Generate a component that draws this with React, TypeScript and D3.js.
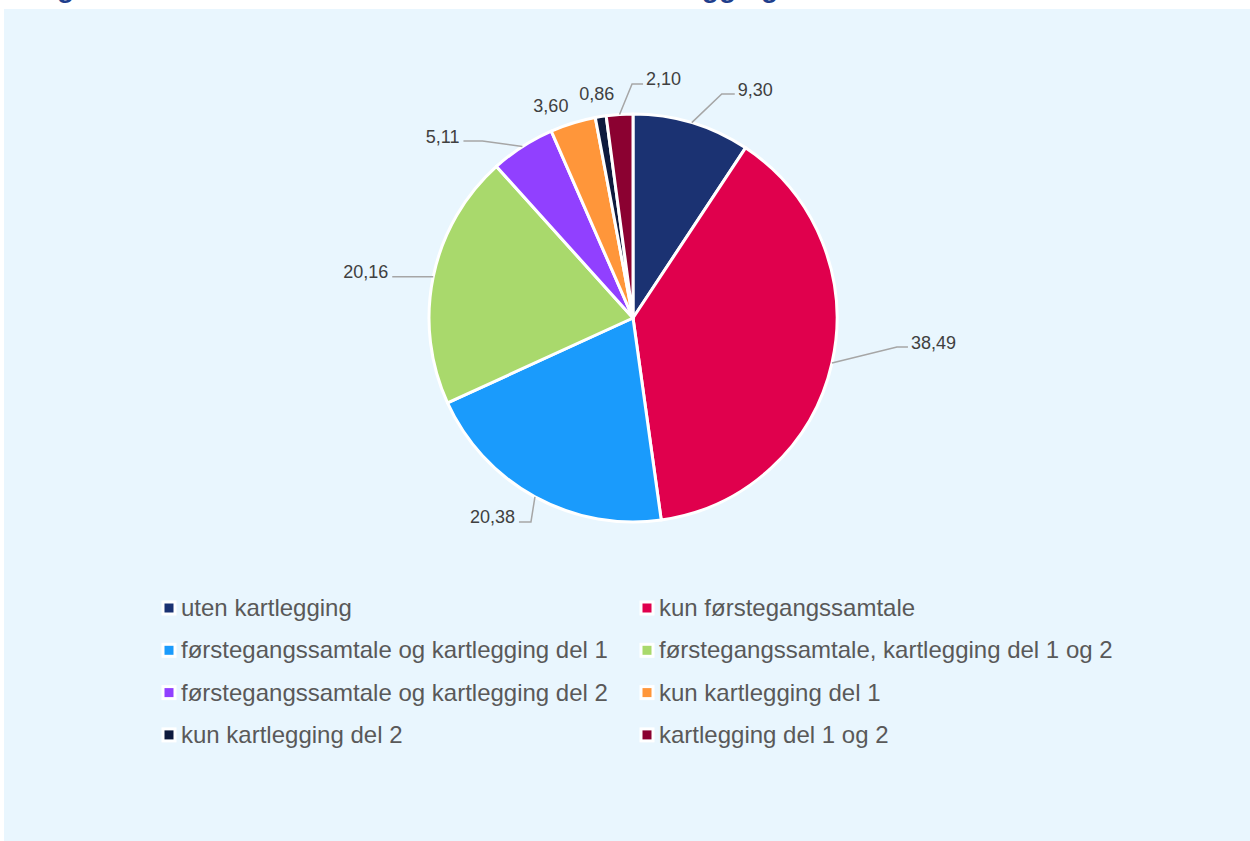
import React from "react";
import * as d3 from "d3";

const categories = [
  "uten kartlegging",
  "kun førstegangssamtale",
  "førstegangssamtale og kartlegging del 1",
  "førstegangssamtale, kartlegging del 1 og 2",
  "førstegangssamtale og kartlegging del 2",
  "kun kartlegging del 1",
  "kun kartlegging del 2",
  "kartlegging del 1 og 2",
];
const values = [9.3, 38.49, 20.38, 20.16, 5.11, 3.6, 0.86, 2.1];
const colors = [
  "#1B3272",
  "#E0004D",
  "#1A9BFC",
  "#A9D96C",
  "#9140FF",
  "#FF963A",
  "#0E1A3D",
  "#8B0131",
];
const titleText = "Figur 4. Andel arbeidssøkere etter status for kartlegging";

// label layout: offset of elbow from slice edge point, horizontal run, whether leader drawn
const labelLayout = [
  { dx: 30, dy: -28.6, h: 13, leader: true },
  { dx: 65, dy: -16, h: 11, leader: true },
  { dx: -4, dy: 25, h: -12, leader: true },
  { dx: 0, dy: 0, h: -41, leader: true },
  { dx: -40, dy: -5.5, h: -19, leader: true },
  { dx: -22, dy: -11, h: 0, leader: false },
  { dx: -4, dy: -16.6, h: 0, leader: false },
  { dx: 12.5, dy: -30.5, h: 11, leader: true },
];

const W = 1250;
const H = 841;
const cx = 633;
const cy = 318;
const R = 204;
const FONT = "'Liberation Sans', Arial, sans-serif";

const fmt = (v: number) => d3.format(".2f")(v).replace(".", ",");

export default function App() {
  const pie = d3
    .pie<number>()
    .sort(null)
    .value((d) => d);
  const arcs = pie(values);
  const arcGen = d3.arc<d3.PieArcDatum<number>>().innerRadius(0).outerRadius(R);

  const legendX = [169, 647];
  const legendY0 = 608;
  const legendDy = 42.3;

  return (
    <svg
      width={W}
      height={H}
      style={{ position: "absolute", left: 0, top: 0, display: "block" }}
      fontFamily={FONT}
    >
      <rect x={0} y={0} width={W} height={H} fill="#FFFFFF" />
      <text
        x={778}
        y={-3}
        textAnchor="end"
        fontSize={28}
        fontWeight="bold"
        fill="#1F3E8C"
      >
        {titleText}
      </text>
      <rect x={4} y={9} width={W - 4} height={H - 9} fill="#E9F6FE" />

      <g transform={`translate(${cx},${cy})`}>
        {arcs.map((a, i) => (
          <path
            key={i}
            d={arcGen(a) || ""}
            fill={colors[i]}
            stroke="#FFFFFF"
            strokeWidth={3}
            strokeLinejoin="round"
          />
        ))}
      </g>

      {arcs.map((a, i) => {
        const mid = (a.startAngle + a.endAngle) / 2;
        const px = cx + R * Math.sin(mid);
        const py = cy - R * Math.cos(mid);
        const L = labelLayout[i];
        const ex = px + L.dx;
        const ey = py + L.dy;
        const endX = ex + L.h;
        let tx: number;
        let anchor: string;
        if (!L.leader) {
          tx = ex;
          anchor = "middle";
        } else if (L.h >= 0) {
          tx = endX + 3;
          anchor = "start";
        } else {
          tx = endX - 4;
          anchor = "end";
        }
        return (
          <g key={i}>
            {L.leader && (
              <polyline
                points={`${px},${py} ${ex},${ey} ${endX},${ey}`}
                fill="none"
                stroke="#A6A6A6"
                strokeWidth={1.5}
              />
            )}
            <text
              x={tx}
              y={ey + (L.leader ? 1.5 : 0)}
              textAnchor={anchor}
              fontSize={18}
              fill="#404040"
            >
              {fmt(values[i])}
            </text>
          </g>
        );
      })}

      {categories.map((c, i) => {
        const col = i % 2;
        const row = Math.floor(i / 2);
        const x = legendX[col];
        const y = legendY0 + row * legendDy;
        return (
          <g key={c}>
            <rect x={x - 7.5} y={y - 7.5} width={15} height={15} fill="#FFFFFF" />
            <rect x={x - 4.5} y={y - 4.5} width={9} height={9} fill={colors[i]} />
            <text x={x + 12} y={y + 8} fontSize={24} fill="#595959">
              {c}
            </text>
          </g>
        );
      })}
    </svg>
  );
}
